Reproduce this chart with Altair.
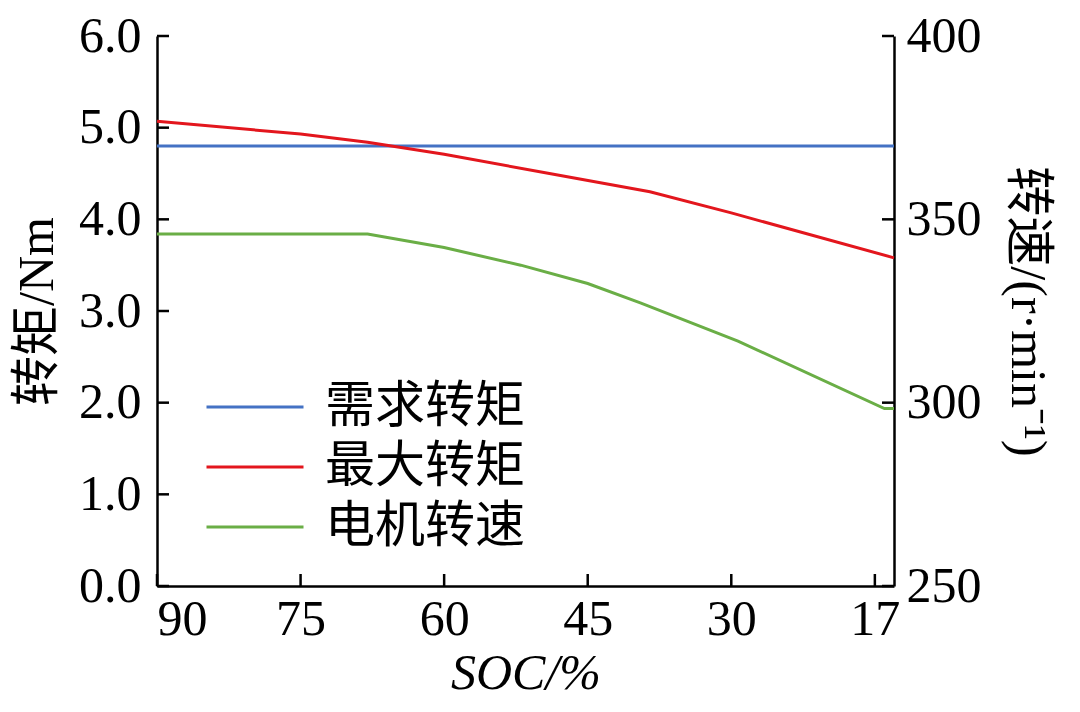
import pandas as pd
import altair as alt

FONT = "Liberation Serif, Noto Sans CJK SC"

# series names and colours
series = ["需求转矩", "最大转矩", "电机转速"]
colors = ["#4472C4", "#E3161D", "#6AAE46"]

# demand torque (Nm), flat
demand_soc = [90, 13]
demand_torque = [4.8, 4.8]

# max torque (Nm)
max_soc = [90, 75, 68, 60, 49, 38.5, 30, 13]
max_torque = [5.07, 4.93, 4.84, 4.71, 4.50, 4.30, 4.07, 3.58]

# motor speed (r/min), right axis
speed_soc = [90, 68, 60, 52, 45, 39.5, 29.3, 14, 13]
speed_rpm = [346, 346, 342.3, 337.5, 332.5, 327.2, 316.8, 298.4, 298.4]

# axis ticks
x_ticks = [90, 75, 60, 45, 30, 15]
left_ticks = [0, 1, 2, 3, 4, 5, 6]
right_ticks = [250, 300, 350, 400]

torque = pd.DataFrame({
    "series": [series[0]] * len(demand_soc) + [series[1]] * len(max_soc),
    "soc": demand_soc + max_soc,
    "value": demand_torque + max_torque,
})
speed = pd.DataFrame({"series": series[2], "soc": speed_soc, "value": speed_rpm})

W, H = 737, 550
TICK = 12
x_scale = alt.Scale(domain=[13, 90], reverse=True, nice=False, zero=False)
left_scale = alt.Scale(domain=[0, 6], nice=False)
right_scale = alt.Scale(domain=[250, 400], nice=False, zero=False)

color = alt.Color("series:N", scale=alt.Scale(domain=series, range=colors),
                  sort=series,
                  legend=alt.Legend(orient="none", legendX=48, legendY=341, title=None,
                                    symbolType="stroke", symbolSize=9409,
                                    symbolStrokeWidth=3, clipHeight=60, rowPadding=0,
                                    padding=0, labelOffset=20, labelLimit=0,
                                    labelFont=FONT, labelFontSize=50,
                                    labelColor="black"))

x_enc = alt.X("soc:Q", scale=x_scale, title="SOC/%",
              axis=alt.Axis(values=x_ticks, tickSize=0, labelPadding=8,
                            labelExpr="datum.value == 15 ? '17' : datum.label",
                            titleFontStyle="italic", titlePadding=4))

torque_lines = alt.Chart(torque).mark_line(strokeWidth=3).encode(
    x=x_enc,
    y=alt.Y("value:Q", scale=left_scale, title="转矩/Nm",
            axis=alt.Axis(values=left_ticks, format=".1f", tickSize=0, labelPadding=16,
                          titlePadding=16)),
    color=color,
    detail="series:N",
)

speed_line = alt.Chart(speed).mark_line(strokeWidth=3).encode(
    x=alt.X("soc:Q", scale=x_scale),
    y=alt.Y("value:Q", scale=right_scale, title="转速/(r·min⁻¹)",
            axis=alt.Axis(orient="right", values=right_ticks, tickSize=0, labelPadding=12,
                          titlePadding=20)),
    color=color,
)

# inward tick marks
x_tick_marks = alt.Chart(pd.DataFrame({"v": x_ticks})).mark_rule(
    color="black", strokeWidth=2.5).encode(
    x=alt.X("v:Q", scale=x_scale),
    y=alt.value(H - TICK), y2=alt.value(H))

left_tick_marks = alt.Chart(pd.DataFrame({"v": left_ticks})).mark_rule(
    color="black", strokeWidth=2.5).encode(
    y=alt.Y("v:Q", scale=left_scale, axis=None),
    x=alt.value(0), x2=alt.value(TICK))

right_tick_marks = alt.Chart(pd.DataFrame({"v": right_ticks})).mark_rule(
    color="black", strokeWidth=2.5).encode(
    y=alt.Y("v:Q", scale=right_scale, axis=None),
    x=alt.value(W - TICK), x2=alt.value(W))

chart = alt.layer(
    torque_lines, speed_line, x_tick_marks, left_tick_marks, right_tick_marks
).resolve_scale(
    y="independent"
).properties(
    width=W, height=H,
    autosize=alt.AutoSizeParams(type="none"),
    padding={"left": 149, "top": 28, "right": 178, "bottom": 118},
    background="white",
).configure_view(
    stroke=None
).configure_axis(
    domainColor="black", domainWidth=2.5, grid=False,
    labelFont=FONT, labelFontSize=50, labelColor="black",
    titleFont=FONT, titleFontSize=50, titleColor="black", titleFontWeight="normal",
)

chart.save("out.html", embed_options={"renderer": "svg", "actions": False})
